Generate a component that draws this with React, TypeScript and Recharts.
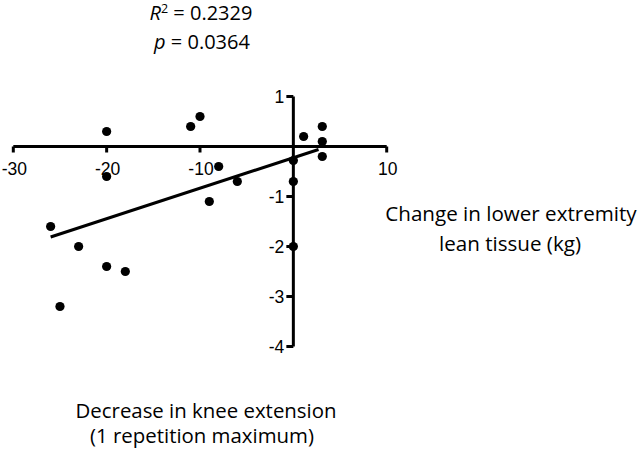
import React from 'react';
import { ScatterChart, Scatter, XAxis, YAxis, ReferenceLine, ReferenceDot } from 'recharts';

// Data
const kneeDecrease = [-20, -11, -10, 1.1, 3.1, 3.1, 3.1, 0, 0, -8, -6, -20, -9, -26, -23, -20, -18, -25, 0];
const leanChange = [0.3, 0.4, 0.6, 0.2, 0.4, 0.1, -0.2, -0.28, -0.7, -0.4, -0.7, -0.6, -1.1, -1.6, -2, -2.4, -2.5, -3.2, -2];

const fitX = [-26, 2.7];
const fitY = [-1.81, -0.06];

const xTicks = [-30, -20, -10, 10];
const yTicks = [1, -1, -2, -3, -4];
const xDomain: [number, number] = [-30, 10];
const yDomain: [number, number] = [-4, 1];

const rSquared = '0.2329';
const pValue = '0.0364';

const yLabelLines = ['Change in lower extremity', 'lean tissue (kg)'];
const xLabelLines = ['Decrease in knee extension', '(1 repetition maximum)'];

const points = kneeDecrease.map((x, i) => ({ x, y: leanChange[i] }));
const fitLine = fitX.map((x, i) => ({ x, y: fitY[i] }));

const tickFont = '"Liberation Sans", Arial, sans-serif';
const textFont = '"Open Sans", sans-serif';

const Dot = (props: any) => <circle cx={props.cx} cy={props.cy} r={4.6} fill="#000" />;

const makeXTick = (label: string) => (props: any) => (
  <g>
    <line x1={props.cx} y1={props.cy} x2={props.cx} y2={props.cy + 6} stroke="#000" strokeWidth={3} />
    <text x={props.cx + 1} y={props.cy + 28} textAnchor="middle" fontSize={17.5} fontFamily={tickFont} fill="#000">
      {label}
    </text>
  </g>
);

const makeYTick = (label: string) => (props: any) => (
  <g>
    <line x1={props.cx} y1={props.cy} x2={props.cx - 7} y2={props.cy} stroke="#000" strokeWidth={3} />
    <text x={props.cx - 9} y={props.cy + 6} textAnchor="end" fontSize={17.5} fontFamily={tickFont} fill="#000">
      {label}
    </text>
  </g>
);

export default function App() {
  return (
    <div style={{ position: 'absolute', left: 0, top: 0, width: 640, height: 452, background: '#fff' }}>
      <ScatterChart
        width={640}
        height={452}
        margin={{ top: 96.5, right: 253.3, bottom: 105.5, left: 13.3 }}
      >
        <XAxis type="number" dataKey="x" domain={xDomain} hide allowDataOverflow />
        <YAxis type="number" dataKey="y" domain={yDomain} hide allowDataOverflow />
        <ReferenceLine segment={[{ x: xDomain[0], y: 0 }, { x: xDomain[1], y: 0 }]} stroke="#000" strokeWidth={3} ifOverflow="visible" />
        <ReferenceLine segment={[{ x: 0, y: yDomain[0] }, { x: 0, y: yDomain[1] }]} stroke="#000" strokeWidth={3} ifOverflow="visible" />
        {xTicks.map((t) => (
          <ReferenceDot key={'x' + t} x={t} y={0} r={0} ifOverflow="visible" shape={makeXTick(String(t))} />
        ))}
        {yTicks.map((t) => (
          <ReferenceDot key={'y' + t} x={0} y={t} r={0} ifOverflow="visible" shape={makeYTick(String(t))} />
        ))}
        <Scatter
          data={fitLine}
          line={{ stroke: '#000', strokeWidth: 3 }}
          shape={() => <g />}
          isAnimationActive={false}
        />
        <Scatter data={points} shape={Dot} isAnimationActive={false} />
      </ScatterChart>
      <svg width={640} height={452} style={{ position: 'absolute', left: 0, top: 0, pointerEvents: 'none' }}>
        <text x={201} y={20} textAnchor="middle" fontSize={20} fontFamily={textFont} fill="#000">
          <tspan fontStyle="italic">R</tspan>
          <tspan dy={-7} fontSize={12.5}>2</tspan>
          <tspan dy={7}> = {rSquared}</tspan>
        </text>
        <text x={202} y={49} textAnchor="middle" fontSize={20} fontFamily={textFont} fill="#000">
          <tspan fontStyle="italic">p</tspan>
          <tspan> = {pValue}</tspan>
        </text>
        <text textAnchor="middle" fontSize={20.6} fontFamily={textFont} fill="#000">
          <tspan x={511} y={221}>{yLabelLines[0]}</tspan>
          <tspan x={510} y={251}>{yLabelLines[1]}</tspan>
        </text>
        <text textAnchor="middle" fontSize={20.4} fontFamily={textFont} fill="#000">
          <tspan x={206} y={418}>{xLabelLines[0]}</tspan>
          <tspan x={202} y={443}>{xLabelLines[1]}</tspan>
        </text>
      </svg>
    </div>
  );
}
